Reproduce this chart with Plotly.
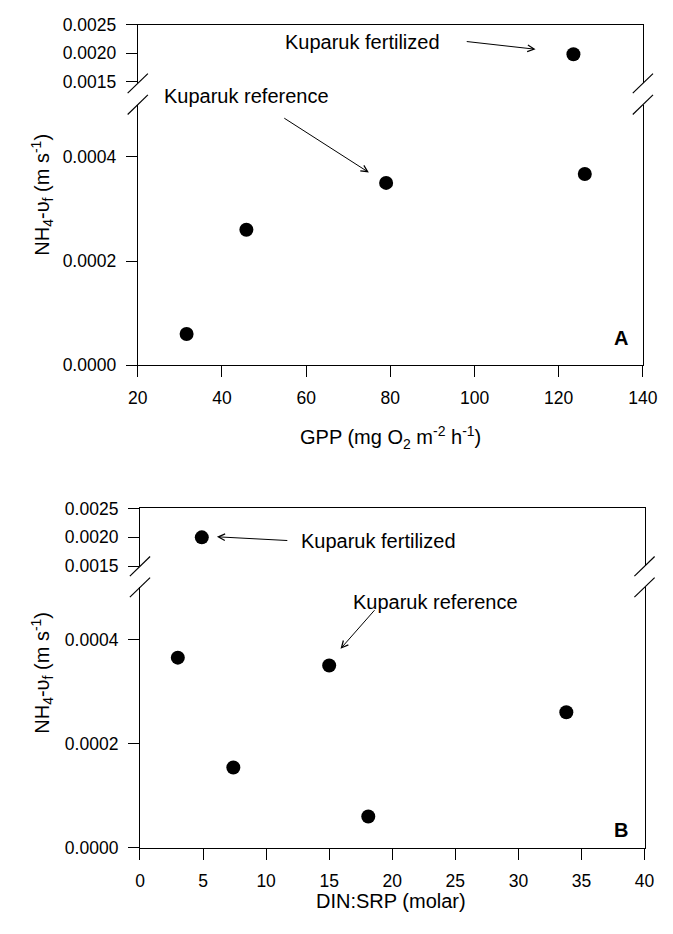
import plotly.graph_objects as go

W, H = 673, 934
FONT = "Liberation Sans, Arial, Helvetica, sans-serif"

# Panel A: ammonium uptake velocity against gross primary production
gpp = [31.6, 45.8, 79.0, 123.5, 126.2]
vf_gpp = [0.00006, 0.00026, 0.00035, 0.00198, 0.000367]

# Panel B: ammonium uptake velocity against DIN:SRP ratio
din_srp = [3.0, 4.9, 7.4, 15.0, 18.1, 33.8]
vf_din = [0.000365, 0.0020, 0.000154, 0.00035, 0.00006, 0.00026]

# Broken y axis: lower and upper segments
low_range = [0.0, 0.0005]
high_range_a = [0.00147, 0.0025]
high_range_b = [0.0015, 0.0025]
low_ticks = [0.0, 0.0002, 0.0004]
high_ticks = [0.0015, 0.0020, 0.0025]
gpp_ticks = [20, 40, 60, 80, 100, 120, 140]
din_ticks = [0, 5, 10, 15, 20, 25, 30, 35, 40]


def fx(p):
    return p / W


def fy(p):
    return 1 - p / H


# layout in pixels -> paper fractions
dom_x_a = [fx(132.7), fx(657.3)]
dom_low_a = [fy(363), fy(96.8)]
dom_high_a = [fy(75), fy(15)]
dom_x_b = [fx(135), fx(659)]
dom_low_b = [fy(856), fy(590)]
dom_high_b = [fy(568.5), fy(509.3)]


def split(xs, ys, cut):
    lo = [(x, y) for x, y in zip(xs, ys) if y < cut]
    hi = [(x, y) for x, y in zip(xs, ys) if y >= cut]
    return ([p[0] for p in lo], [p[1] for p in lo]), ([p[0] for p in hi], [p[1] for p in hi])


marker = dict(color="black", size=14, line=dict(width=0))
fig = go.Figure()
(a_lo, a_hi) = split(gpp, vf_gpp, 0.001)
(b_lo, b_hi) = split(din_srp, vf_din, 0.001)
fig.add_trace(go.Scatter(x=a_lo[0], y=a_lo[1], mode="markers", marker=marker, xaxis="x", yaxis="y"))
fig.add_trace(go.Scatter(x=a_hi[0], y=a_hi[1], mode="markers", marker=marker, xaxis="x2", yaxis="y2"))
fig.add_trace(go.Scatter(x=b_lo[0], y=b_lo[1], mode="markers", marker=marker, xaxis="x3", yaxis="y3"))
fig.add_trace(go.Scatter(x=b_hi[0], y=b_hi[1], mode="markers", marker=marker, xaxis="x4", yaxis="y4"))

tickfont = dict(family=FONT, size=17.5, color="black")
line_common = dict(showline=True, linecolor="black", linewidth=1.2, showgrid=False,
                   zeroline=False, tickcolor="black", tickwidth=1.1, ticklen=11)


def xaxis_low(domain, rng, tickvals, anchor):
    return dict(domain=domain, range=rng, anchor=anchor, tickvals=tickvals, ticks="outside",
                tickfont=tickfont, ticklabelstandoff=6, mirror=False, **line_common)


def xaxis_high(domain, rng, anchor, match):
    return dict(domain=domain, range=rng, anchor=anchor, side="top", ticks="",
                showticklabels=False, matches=match, **line_common)


def yaxis(domain, rng, tickvals, anchor):
    return dict(domain=domain, range=rng, anchor=anchor, tickvals=tickvals, tickformat=".4f",
                ticks="outside", tickfont=tickfont, ticklabelstandoff=6, mirror=True, **line_common)


fig.update_layout(
    width=W, height=H, margin=dict(l=0, r=0, t=0, b=0),
    paper_bgcolor="white", plot_bgcolor="white", showlegend=False,
    xaxis=xaxis_low(dom_x_a, [20, 140], gpp_ticks, "y"),
    yaxis=yaxis(dom_low_a, low_range, low_ticks, "x"),
    xaxis2=xaxis_high(dom_x_a, [20, 140], "y2", "x"),
    yaxis2=yaxis(dom_high_a, high_range_a, high_ticks, "x2"),
    xaxis3=xaxis_low(dom_x_b, [0, 40], din_ticks, "y3"),
    yaxis3=yaxis(dom_low_b, low_range, low_ticks, "x3"),
    xaxis4=xaxis_high(dom_x_b, [0, 40], "y4", "x3"),
    yaxis4=yaxis(dom_high_b, high_range_b, high_ticks, "x4"),
)

# axis-break slashes on both sides of each panel
shapes = []
for dom_x, y_break_hi, y_break_lo in [(dom_x_a, 75, 96.8), (dom_x_b, 568.5, 590)]:
    for xe in dom_x:
        for yc in (y_break_hi, y_break_lo):
            shapes.append(dict(type="line", xref="paper", yref="paper",
                               x0=xe - fx(10.5), y0=fy(yc + 10), x1=xe + fx(10.5), y1=fy(yc - 10),
                               line=dict(color="black", width=1.2)))
fig.update_layout(shapes=shapes)

lab = dict(family=FONT, size=20, color="black")
ann = []


def arrow(xr, yr, tail, tip):
    ann.append(dict(xref=xr, yref=yr, axref=xr, ayref=yr, x=tip[0], y=tip[1], ax=tail[0], ay=tail[1],
                    text="", showarrow=True, arrowhead=5, arrowsize=1.3, arrowwidth=1,
                    arrowcolor="black"))


def label(xr, yr, x, y, text):
    ann.append(dict(xref=xr, yref=yr, x=x, y=y, text=text, showarrow=False, font=lab,
                    xanchor="center", yanchor="middle"))


label("x2", "y2", 73.4, 0.00219, "Kuparuk fertilized")
arrow("x2", "y2", (97.8, 0.002207), (114.5, 0.002069))
# this label sits in the gap between the two y segments, so place it on the page
label("paper", "paper", fx(246), fy(88), "Kuparuk reference")
arrow("x", "y", (54.45, 0.000476), (74.9, 0.00037))
label("x4", "y4", 18.9, 0.001933, "Kuparuk fertilized")
arrow("x4", "y4", (11.8, 0.001944), (6.1, 0.00201))
label("x3", "y3", 23.4, 0.000472, "Kuparuk reference")
arrow("x3", "y3", (18.7, 0.000459), (15.9, 0.000382))

title_font = dict(family=FONT, size=20, color="black")
ytitle = "NH<sub>4</sub>-\u03c5<sub>f</sub> (m s<sup>-1</sup>)"
ann.append(dict(xref="paper", yref="paper", x=fx(34), y=fy(189), text=ytitle, textangle=-90,
                showarrow=False, font=title_font, xanchor="center", yanchor="middle"))
ann.append(dict(xref="paper", yref="paper", x=fx(34), y=fy(677.5), text=ytitle, textangle=-90,
                showarrow=False, font=title_font, xanchor="center", yanchor="middle"))
ann.append(dict(xref="paper", yref="paper", x=fx(395), y=fy(437),
                text="GPP (mg O<sub>2</sub> m<sup>-2</sup> h<sup>-1</sup>)",
                showarrow=False, font=title_font, xanchor="center", yanchor="middle"))
ann.append(dict(xref="paper", yref="paper", x=fx(396), y=fy(910), text="DIN:SRP (molar)",
                showarrow=False, font=title_font, xanchor="center", yanchor="middle"))

panel_font = dict(family=FONT, size=20, color="black")
ann.append(dict(xref="paper", yref="paper", x=fx(635), y=fy(335), text="<b>A</b>",
                showarrow=False, font=panel_font, xanchor="center", yanchor="middle"))
ann.append(dict(xref="paper", yref="paper", x=fx(635), y=fy(838), text="<b>B</b>",
                showarrow=False, font=panel_font, xanchor="center", yanchor="middle"))

fig.update_layout(annotations=ann)
fig.write_html("out.html")
